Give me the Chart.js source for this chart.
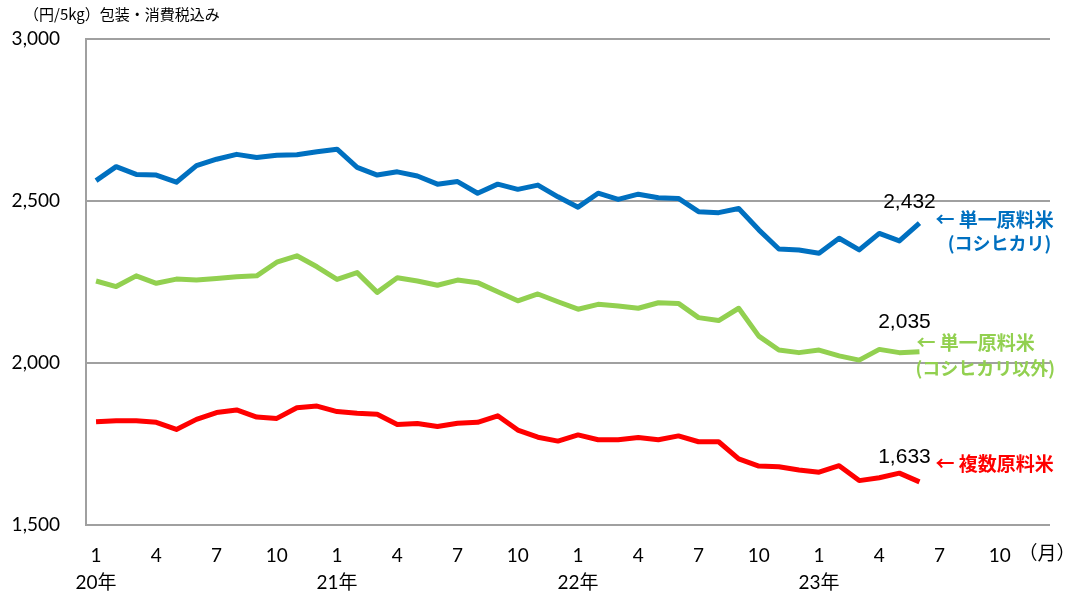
<!DOCTYPE html>
<html>
<head>
<meta charset="utf-8">
<script src="https://cdn.jsdelivr.net/npm/chart.js@4/dist/chart.umd.min.js"></script>
<style>
  html, body { margin: 0; padding: 0; background: #fff; }
  #wrap { width: 1072px; height: 591px; position: relative; }
</style>
</head>
<body>
<div id="wrap"><canvas id="riceChart" width="1072" height="591"></canvas></div>
<script>
// 月ラベル（20年1月〜23年12月）
const months = ['1','','','4','','','7','','','10','','',
                '1','','','4','','','7','','','10','','',
                '1','','','4','','','7','','','10','','',
                '1','','','4','','','7','','','10','',''];
const yearLabels = ['20年', '21年', '22年', '23年'];
const yTicks = [1500, 2000, 2500, 3000];

// 単一原料米（コシヒカリ）
const koshihikari = [2563,2606,2582,2580,2558,2609,2629,2644,2634,2641,2643,2652,
                     2660,2604,2580,2590,2577,2552,2560,2524,2552,2536,2549,2513,
                     2481,2524,2505,2521,2510,2508,2467,2464,2477,2411,2352,2349,
                     2339,2385,2349,2400,2377,2432];
// 単一原料米（コシヒカリ以外）
const otherSingle = [2253,2236,2269,2246,2259,2256,2261,2266,2269,2311,2331,2297,
                     2258,2279,2218,2263,2253,2240,2256,2248,2220,2192,2213,2189,
                     2166,2181,2176,2169,2186,2184,2140,2131,2169,2083,2040,2032,
                     2040,2022,2009,2042,2032,2035];
// 複数原料米
const blended = [1819,1822,1822,1817,1795,1826,1847,1855,1833,1829,1862,1867,
                 1850,1845,1842,1810,1813,1804,1814,1817,1837,1793,1771,1759,
                 1778,1763,1763,1770,1763,1775,1757,1757,1704,1682,1680,1670,
                 1663,1683,1637,1646,1660,1633];

const seriesNames = [['単一原料米', '(コシヒカリ)'], ['単一原料米', '(コシヒカリ以外)'], ['複数原料米']];
const seriesColors = ['#0070C0', '#92D050', '#FF0000'];

const tickFont = "Lato, 'Noto Sans CJK JP', sans-serif";

/**
 * 単位・系列名・最終値のラベルを描く
 */
const labelPlugin = {
    id: 'labelPlugin',
    afterDatasetsDraw(chart) {
        const c = chart.ctx;
        c.save();
        // 単位
        c.fillStyle = '#000';
        c.font = "15px 'Noto Sans CJK JP', sans-serif";
        c.textAlign = 'left';
        c.textBaseline = 'middle';
        c.fillText('（円/5kg）包装・消費税込み', 24, 14);

        // 月
        c.font = "19px 'Noto Sans CJK JP', sans-serif";
        c.textAlign = 'center';
        c.fillText('（月）', 1047, 553);

        const offsets = [
            { val: [-10, -21], name: [16, -3], sub: [80, 20] },
            { val: [-15, -29], name: [-3, -9], sub: [-4, 16] },
            { val: [-15, -25], name: [16, -18], sub: [0, 0] }
        ];
        chart.data.datasets.forEach((ds, i) => {
            const pts = chart.getDatasetMeta(i).data;
            const last = pts[pts.length - 1];
            const o = offsets[i];
            const v = ds.data[ds.data.length - 1];
            c.fillStyle = '#000';
            c.font = "21px 'Liberation Sans', Arial, sans-serif";
            c.textAlign = 'center';
            c.fillText(v.toLocaleString('en-US'), last.x + o.val[0], last.y + o.val[1]);

            c.fillStyle = seriesColors[i];
            c.font = "bold 19px 'Noto Sans CJK JP', sans-serif";
            c.textAlign = 'left';
            c.fillText('← ' + seriesNames[i][0], last.x + o.name[0], last.y + o.name[1]);
            if (seriesNames[i][1]) {
                c.font = "bold 18px 'Noto Sans CJK JP', sans-serif";
                c.textAlign = i === 0 ? 'center' : 'left';
                c.fillText(seriesNames[i][1], last.x + o.sub[0], last.y + o.sub[1]);
            }
        });
        c.restore();
    }
};

new Chart(document.getElementById('riceChart'), {
    type: 'line',
    data: {
        labels: months,
        datasets: [koshihikari, otherSingle, blended].map((d, i) => ({
            label: seriesNames[i].join(''),
            data: d,
            borderColor: seriesColors[i],
            backgroundColor: seriesColors[i],
            borderWidth: 5,
            pointRadius: 0,
            tension: 0,
            borderJoinStyle: 'round',
            fill: false
        }))
    },
    options: {
        responsive: false,
        animation: false,
        layout: { padding: { top: 39, right: 22, left: 0, bottom: 0 } },
        plugins: { legend: { display: false }, tooltip: { enabled: false } },
        scales: {
            x: {
                type: 'category',
                offset: true,
                grid: { display: false, drawTicks: false },
                border: { display: false },
                afterFit(scale) { scale.height = 66; },
                ticks: {
                    autoSkip: false,
                    maxRotation: 0,
                    padding: 18,
                    color: '#000',
                    font: { family: tickFont, size: 19, lineHeight: 1.4 },
                    callback(value, index) {
                        const m = months[index];
                        if (index % 12 === 0) return [m, yearLabels[index / 12]];
                        return m;
                    }
                }
            },
            y: {
                min: 1500,
                max: 3000,
                afterBuildTicks(scale) { scale.ticks = yTicks.map(v => ({ value: v })); },
                afterFit(scale) { scale.width = 86; },
                grid: { color: '#a0a0a0', lineWidth: 2, drawTicks: false },
                border: { display: true, color: '#a0a0a0', width: 2 },
                ticks: {
                    padding: 26,
                    color: '#000',
                    font: { family: tickFont, size: 19 },
                    callback: v => v.toLocaleString('en-US')
                }
            }
        }
    },
    plugins: [labelPlugin]
});
</script>
</body>
</html>
